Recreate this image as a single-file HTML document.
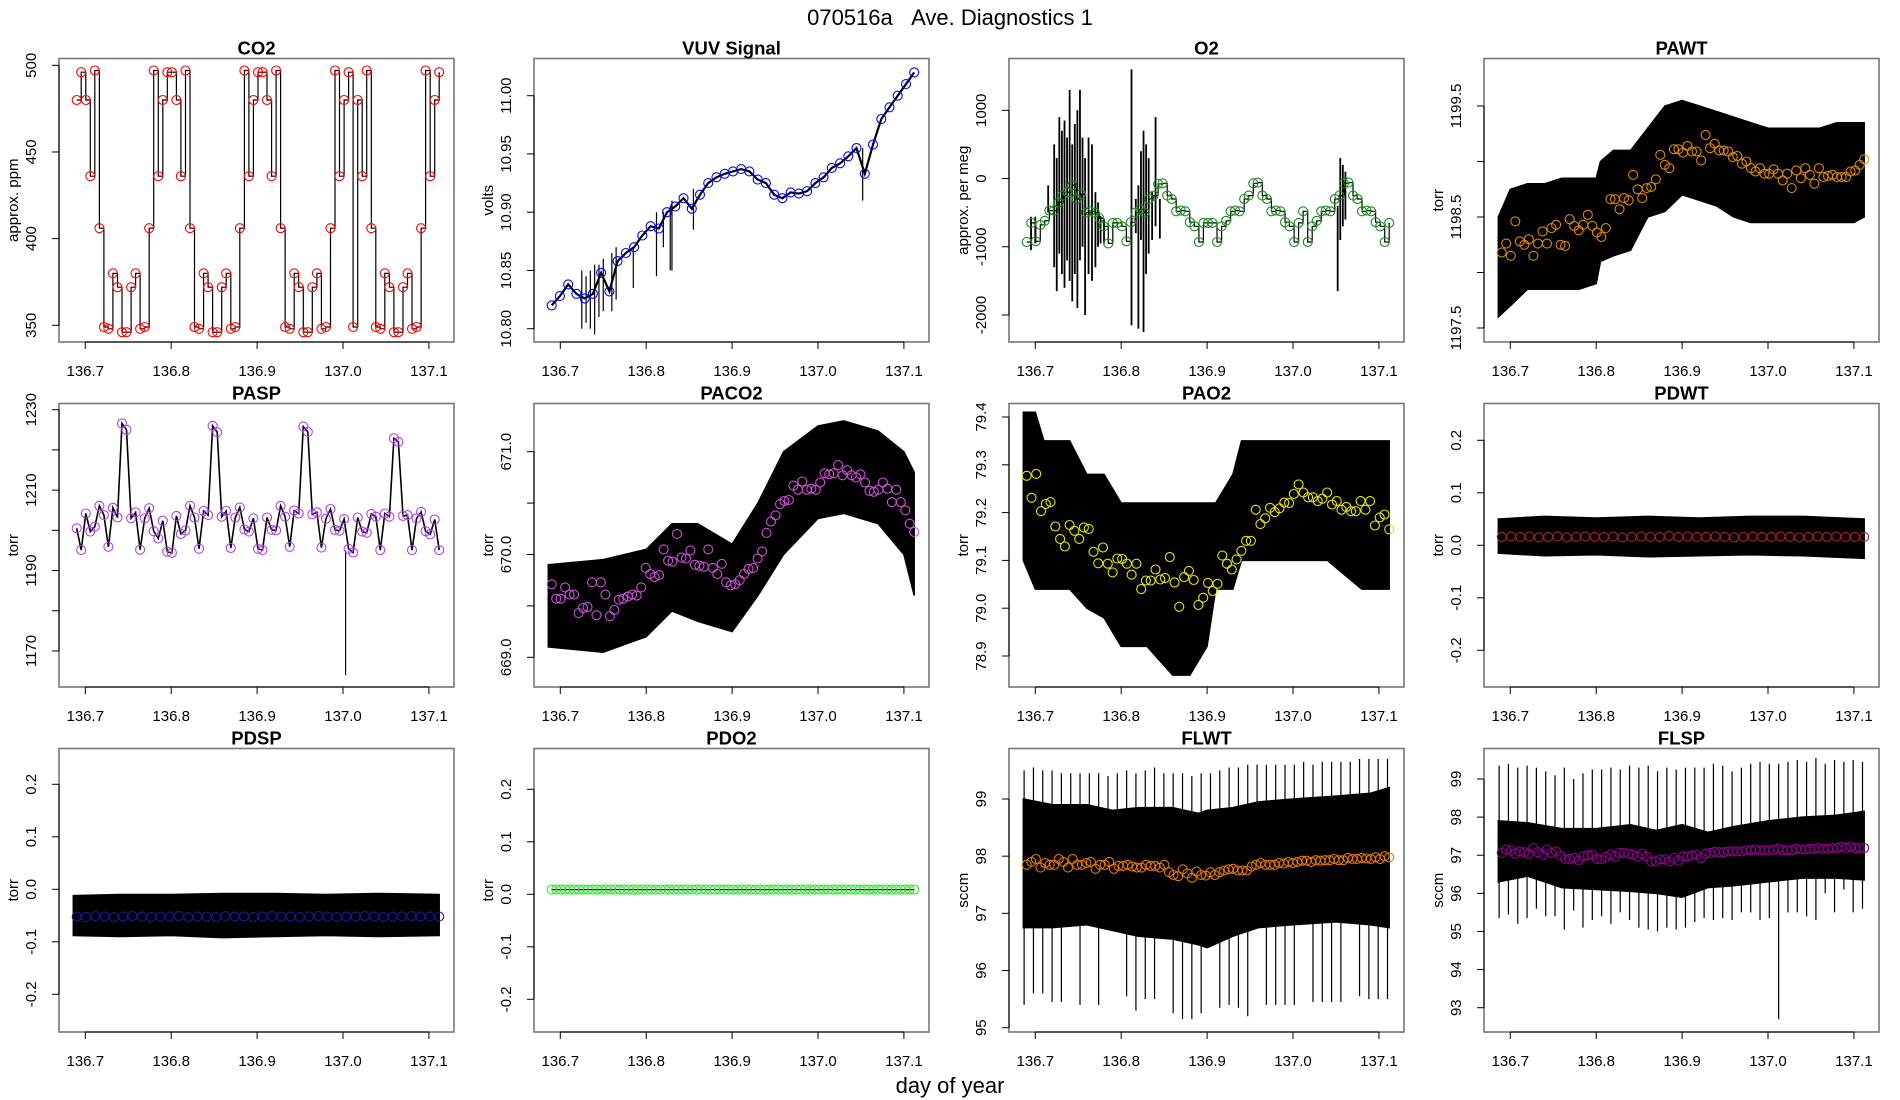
<!DOCTYPE html>
<html><head><meta charset="utf-8">
<style>
html,body{margin:0;padding:0;background:#fff;}
svg{display:block;font-family:"Liberation Sans",Arial,sans-serif;}
</style></head>
<body>
<svg id="chart" width="1900" height="1100" viewBox="0 0 1900 1100" xmlns="http://www.w3.org/2000/svg">
<rect width="1900" height="1100" fill="#fff"/>
<text x="950" y="25" text-anchor="middle" font-size="22">070516a&#160;&#160;&#160;Ave. Diagnostics 1</text>
<text x="950" y="1093" text-anchor="middle" font-size="22">day of year</text>
</svg>
<script>
// ---------- shared axis ----------
const xTickVals = [136.7, 136.8, 136.9, 137.0, 137.1];
const xTickLabels = ["136.7", "136.8", "136.9", "137.0", "137.1"];
const tStart = 136.690, tEnd = 137.112;

// ---------- CO2 ----------
const co2Avg = [480,496,480,436,497,406,349,348,380,372,346,346,372,380,348,349,406,497,436,480,496,496,480,436,497,406,349,348,380,372,346,346,372,380,348,349,406,497,436,480,496,496,480,436,497,406,349,348,380,372,346,346,372,380,348,349,406,497,436,480,496,349,480,436,497,406,349,348,380,372,346,346,372,380,348,349,406,497,436,480,496];
// ---------- VUV ----------
const vuvAvg = [10.820,10.828,10.838,10.830,10.826,10.830,10.848,10.832,10.858,10.865,10.870,10.880,10.888,10.886,10.900,10.905,10.912,10.903,10.915,10.925,10.930,10.933,10.935,10.937,10.935,10.928,10.925,10.915,10.912,10.917,10.916,10.918,10.925,10.930,10.938,10.942,10.948,10.955,10.933,10.958,10.980,10.990,11.000,11.010,11.020];
const vuvSpikeX = [136.725,136.730,136.735,136.740,136.745,136.750,136.760,136.765,136.785,136.812,136.820,136.828,136.830,136.855,137.052];
const vuvSpikeHi = [10.850,10.845,10.850,10.855,10.855,10.860,10.865,10.870,10.870,10.900,10.900,10.905,10.910,10.920,10.955];
const vuvSpikeLo = [10.800,10.805,10.800,10.795,10.810,10.815,10.815,10.825,10.835,10.845,10.870,10.850,10.850,10.885,10.910];
// ---------- O2 ----------
const o2Avg = [-930,-650,-920,-680,-620,-470,-470,-350,-250,-200,-100,-300,-230,-500,-480,-500,-580,-700,-950,-650,-650,-700,-920,-640,-500,-450,-500,-300,-250,-80,-70,-250,-300,-480,-470,-480,-640,-700,-930,-650,-650,-650,-930,-700,-620,-480,-470,-480,-300,-250,-70,-60,-250,-300,-480,-470,-480,-640,-700,-930,-650,-480,-930,-700,-620,-480,-470,-480,-300,-250,-70,-60,-250,-300,-480,-470,-480,-640,-700,-930,-650];
const o2SpikeX = [136.695,136.700,136.715,136.722,136.725,136.728,136.731,136.734,136.737,136.740,136.743,136.746,136.749,136.752,136.755,136.758,136.762,136.766,136.770,136.773,136.776,136.780,136.812,136.817,136.820,136.823,136.826,136.829,136.832,136.836,136.840,136.845,137.052,137.055,137.058,137.061];
const o2SpikeHi = [-560,-560,-100,500,300,900,700,850,600,1300,500,800,1000,1300,600,300,600,500,-200,-350,-550,-600,1600,-300,-100,400,700,500,300,-200,900,-300,-400,300,200,100];
const o2SpikeLo = [-1050,-950,-500,-1300,-1650,-1100,-1400,-1600,-1200,-1500,-1800,-1400,-1900,-1200,-1000,-2000,-1400,-1500,-1300,-1000,-950,-950,-2150,-800,-2200,-900,-2250,-1400,-1100,-900,-700,-880,-1650,-900,-700,-600];
// ---------- PAWT ----------
const pawtAvg = [1198.18,1198.26,1198.15,1198.46,1198.28,1198.25,1198.30,1198.15,1198.26,1198.37,1198.26,1198.40,1198.43,1198.25,1198.24,1198.48,1198.42,1198.38,1198.43,1198.52,1198.42,1198.36,1198.32,1198.40,1198.66,1198.66,1198.57,1198.67,1198.65,1198.88,1198.75,1198.67,1198.76,1198.77,1198.84,1199.06,1198.97,1198.94,1199.11,1199.11,1199.08,1199.14,1199.09,1199.09,1199.01,1199.24,1199.12,1199.16,1199.10,1199.10,1199.09,1199.04,1199.05,1198.98,1199.00,1198.94,1198.91,1198.94,1198.89,1198.89,1198.93,1198.89,1198.83,1198.89,1198.76,1198.92,1198.85,1198.94,1198.88,1198.80,1198.94,1198.86,1198.87,1198.88,1198.86,1198.86,1198.86,1198.91,1198.92,1198.97,1199.02];
const pawtBandX = [136.686,136.70,136.72,136.74,136.76,136.78,136.80,136.805,136.82,136.84,136.86,136.88,136.90,136.92,136.94,136.96,136.98,137.0,137.02,137.04,137.06,137.08,137.10,137.112];
const pawtBandHi = [1198.5,1198.75,1198.8,1198.8,1198.85,1198.85,1198.85,1199.0,1199.1,1199.1,1199.3,1199.5,1199.55,1199.5,1199.45,1199.4,1199.35,1199.3,1199.3,1199.3,1199.3,1199.35,1199.35,1199.35];
const pawtBandLo = [1197.6,1197.7,1197.85,1197.85,1197.85,1197.85,1197.9,1198.1,1198.15,1198.2,1198.5,1198.55,1198.7,1198.65,1198.6,1198.5,1198.45,1198.45,1198.45,1198.45,1198.45,1198.45,1198.45,1198.5];
// ---------- PASP ----------
const paspAvg = [1200.5,1195.1,1204.2,1199.7,1200.9,1206.1,1203.8,1195.9,1205.6,1203.2,1226.6,1225.0,1203.0,1204.5,1195.2,1203.0,1205.5,1199.8,1198.0,1202.4,1194.7,1194.4,1203.6,1199.1,1200.0,1206.1,1203.2,1195.4,1204.8,1203.8,1226.0,1224.4,1203.4,1204.8,1195.6,1203.2,1205.7,1200.2,1199.7,1203.0,1195.4,1195.1,1203.2,1200.1,1200.0,1206.1,1203.4,1195.9,1204.9,1204.2,1225.8,1224.5,1204.0,1204.5,1195.7,1202.9,1205.3,1200.1,1199.9,1202.8,1195.4,1194.5,1203.2,1199.7,1199.4,1204.1,1203.4,1195.1,1204.2,1203.4,1222.9,1222.0,1203.6,1203.8,1195.1,1203.0,1204.6,1199.8,1199.0,1202.7,1195.1];
const paspSpikeX = [137.003];
const paspSpikeHi = [1195.0];
const paspSpikeLo = [1164.0];
// ---------- PACO2 ----------
const paco2Avg = [669.71,669.57,669.57,669.68,669.61,669.61,669.43,669.48,669.49,669.73,669.41,669.73,669.61,669.40,669.46,669.56,669.57,669.59,669.61,669.60,669.68,669.87,669.81,669.78,669.80,670.05,669.94,669.93,670.20,669.97,669.96,670.04,669.90,669.89,669.88,670.05,669.87,669.81,669.91,669.73,669.70,669.71,669.75,669.81,669.86,669.87,669.96,670.03,670.21,670.32,670.38,670.49,670.52,670.53,670.67,670.63,670.71,670.63,670.64,670.63,670.70,670.79,670.78,670.79,670.87,670.77,670.82,670.77,670.75,670.78,670.70,670.62,670.61,670.63,670.70,670.64,670.51,670.63,670.51,670.43,670.30,670.22];
const paco2BandX = [136.686,136.75,136.80,136.83,136.86,136.90,136.93,136.96,137.0,137.03,137.07,137.10,137.112];
const paco2BandHi = [669.9,669.95,670.05,670.3,670.3,670.1,670.5,671.0,671.25,671.3,671.2,671.0,670.8];
const paco2BandLo = [669.1,669.05,669.2,669.45,669.35,669.25,669.6,670.0,670.35,670.4,670.3,670.0,669.6];
// ---------- PAO2 ----------
const pao2Avg = [79.277,79.231,79.281,79.203,79.218,79.222,79.171,79.145,79.129,79.174,79.162,79.145,79.169,79.166,79.118,79.094,79.127,79.093,79.075,79.104,79.103,79.093,79.070,79.093,79.040,79.058,79.058,79.081,79.060,79.063,79.107,79.054,79.003,79.065,79.078,79.059,79.007,79.022,79.053,79.036,79.051,79.110,79.093,79.081,79.102,79.120,79.141,79.141,79.206,79.176,79.188,79.210,79.201,79.209,79.221,79.220,79.239,79.259,79.242,79.232,79.232,79.224,79.229,79.242,79.217,79.224,79.206,79.212,79.203,79.203,79.224,79.206,79.224,79.173,79.190,79.196,79.165];
const pao2BandX = [136.686,136.70,136.71,136.74,136.76,136.78,136.80,136.83,136.86,136.88,136.90,136.91,136.93,136.94,136.96,136.98,137.0,137.04,137.08,137.10,137.112];
const pao2BandHi = [79.41,79.41,79.35,79.35,79.28,79.28,79.22,79.22,79.22,79.22,79.22,79.22,79.28,79.35,79.35,79.35,79.35,79.35,79.35,79.35,79.35];
const pao2BandLo = [79.10,79.04,79.04,79.04,79.00,78.98,78.92,78.92,78.86,78.86,78.92,79.04,79.04,79.10,79.10,79.10,79.10,79.10,79.04,79.04,79.04];
// ---------- PDWT ----------
const pdwtAvg = [0.016,0.017,0.016,0.017,0.015,0.016,0.017,0.015,0.016,0.017,0.016,0.016,0.017,0.015,0.016,0.017,0.016,0.016,0.018,0.016,0.017,0.016,0.016,0.017,0.016,0.015,0.016,0.017,0.016,0.016,0.017,0.016,0.015,0.016,0.017,0.016,0.017,0.016,0.016,0.016];
const pdwtBandX = [136.686,136.74,136.80,136.86,136.92,136.98,137.04,137.112];
const pdwtBandHi = [0.050,0.055,0.052,0.055,0.052,0.055,0.055,0.050];
const pdwtBandLo = [-0.015,-0.020,-0.018,-0.022,-0.020,-0.018,-0.020,-0.025];
// ---------- PDSP ----------
const pdspAvg = [-0.052,-0.053,-0.051,-0.052,-0.053,-0.052,-0.051,-0.052,-0.053,-0.052,-0.052,-0.051,-0.053,-0.052,-0.052,-0.053,-0.051,-0.052,-0.052,-0.053,-0.052,-0.051,-0.052,-0.052,-0.053,-0.052,-0.051,-0.052,-0.053,-0.052,-0.052,-0.051,-0.052,-0.053,-0.052,-0.052,-0.051,-0.052,-0.052,-0.052];
const pdspBandX = [136.686,136.74,136.80,136.86,136.92,136.98,137.04,137.112];
const pdspBandHi = [-0.012,-0.010,-0.010,-0.008,-0.008,-0.010,-0.008,-0.010];
const pdspBandLo = [-0.088,-0.090,-0.088,-0.092,-0.090,-0.088,-0.090,-0.088];
// ---------- PDO2 ----------
const pdo2Avg = [0.009,0.009,0.009,0.009,0.009,0.009,0.009,0.009,0.009,0.009,0.009,0.009,0.009,0.009,0.009,0.009,0.009,0.009,0.009,0.009,0.009,0.009,0.009,0.009,0.009,0.009,0.009,0.009,0.009,0.009,0.009,0.009,0.009,0.009,0.009,0.009,0.009,0.009,0.009,0.009,0.009,0.009,0.009,0.009,0.009,0.009,0.009,0.009,0.009,0.009,0.009,0.009,0.009,0.009,0.009,0.009,0.009,0.009,0.009,0.009,0.009,0.009,0.009,0.009,0.009,0.009,0.009,0.009,0.009,0.009,0.009,0.009,0.009,0.009,0.009,0.009,0.009,0.009,0.009,0.009,0.009];
// ---------- FLWT ----------
const flwtAvg = [97.85,97.9,97.95,97.8,97.88,97.85,97.85,97.95,97.9,97.8,97.95,97.85,97.85,97.88,97.9,97.78,97.85,97.85,97.9,97.78,97.83,97.83,97.85,97.82,97.8,97.8,97.85,97.83,97.83,97.8,97.85,97.72,97.67,97.65,97.77,97.7,97.62,97.73,97.67,97.66,97.72,97.67,97.72,97.75,97.77,97.78,97.75,97.75,97.75,97.82,97.85,97.88,97.85,97.85,97.85,97.88,97.87,97.9,97.88,97.9,97.92,97.92,97.9,97.93,97.92,97.93,97.93,97.95,97.93,97.93,97.97,97.95,97.95,97.97,97.96,97.95,97.98,97.95,98.0,97.98];
const flwtBandX = [136.686,136.72,136.76,136.79,136.82,136.86,136.89,136.90,136.93,136.96,137.0,137.05,137.09,137.112];
const flwtBandHi = [99.0,98.9,98.9,98.8,98.85,98.85,98.75,98.8,98.85,98.95,99.0,99.05,99.1,99.2];
const flwtBandLo = [96.75,96.75,96.8,96.7,96.6,96.55,96.45,96.4,96.6,96.75,96.8,96.85,96.8,96.75];
const flwtSpikeHi = [99.5,99.55,99.5,99.5,99.45,99.45,99.45,99.45,99.45,99.4,99.45,99.5,99.45,99.5,99.55,99.45,99.45,99.45,99.4,99.45,99.45,99.5,99.55,99.55,99.6,99.6,99.6,99.6,99.6,99.6,99.65,99.6,99.65,99.65,99.65,99.65,99.7,99.7,99.7,99.7];
const flwtSpikeLo = [95.4,95.6,95.6,95.45,95.45,97.0,95.4,97.0,95.4,97.0,97.0,95.55,95.3,95.5,95.5,97.0,95.25,95.15,95.15,95.25,96.8,95.35,95.4,95.35,95.2,96.8,95.4,95.4,95.4,95.4,96.9,95.45,95.45,95.45,95.45,96.9,95.55,95.5,95.5,95.5];
// ---------- FLSP ----------
const flspAvg = [97.06,97.15,97.13,97.04,97.10,97.08,97.04,97.19,97.08,97.02,97.15,97.06,97.10,96.99,96.90,96.90,96.93,96.86,96.97,97.0,97.02,96.90,96.90,96.96,97.02,96.96,97.06,97.06,97.04,97.02,96.96,97.04,96.97,96.84,96.84,96.89,96.89,96.84,96.93,96.86,96.97,96.97,96.99,97.02,96.93,97.04,97.06,97.09,97.08,97.08,97.10,97.10,97.10,97.10,97.13,97.13,97.15,97.13,97.13,97.13,97.15,97.17,97.13,97.13,97.13,97.17,97.15,97.15,97.17,97.17,97.19,97.17,97.17,97.19,97.19,97.22,97.19,97.23,97.19,97.19,97.19];
const flspBandX = [136.686,136.72,136.76,136.80,136.84,136.87,136.90,136.93,136.96,137.0,137.04,137.08,137.112];
const flspBandHi = [97.9,97.85,97.7,97.7,97.8,97.65,97.8,97.6,97.75,97.9,98.0,98.05,98.15];
const flspBandLo = [96.3,96.45,96.15,96.1,96.05,96.0,95.9,96.15,96.2,96.3,96.4,96.4,96.35];
const flspSpikeHi = [99.35,99.4,99.3,99.35,99.3,99.2,99.1,99.3,99.0,99.15,99.25,99.25,99.3,99.25,99.35,99.3,99.35,99.2,99.3,99.25,99.3,99.3,99.3,99.4,99.35,99.2,99.3,99.4,99.45,99.4,99.4,99.45,99.5,99.45,99.55,99.4,99.5,99.45,99.5,99.45];
const flspSpikeLo = [95.35,95.45,95.2,95.35,95.6,95.4,95.4,95.05,95.55,95.1,95.3,95.4,95.2,95.5,95.3,95.1,95.05,95.0,95.1,95.05,95.1,95.25,95.35,95.3,95.35,95.3,95.5,95.5,95.3,95.35,92.7,95.5,95.5,95.4,95.3,96.0,95.5,96.1,95.5,95.6];

// ---------- layout ----------
const NS = "http://www.w3.org/2000/svg";
const svg = document.getElementById("chart");
const colX = [0, 475, 950, 1425];
const rowTop = [58.5, 403.5, 748.5];
const boxL = 59, boxW = 395, boxH = 283.5;
const xDomLo = 136.6694, xDomW = 0.4598;

function mk(tag, attrs, parent) {
  const e = document.createElementNS(NS, tag);
  for (const k in attrs) e.setAttribute(k, attrs[k]);
  (parent || svg).appendChild(e);
  return e;
}
function linspace(a, b, n) { const r = []; for (let i = 0; i < n; i++) r.push(n === 1 ? a : a + (b - a) * i / (n - 1)); return r; }

function panel(cfg) {
  const g = mk("g", {});
  
  
  const L = colX[cfg.col] + boxL, T = rowTop[cfg.row], B = T + boxH, R = L + boxW;
  const xs = v => L + (v - xDomLo) / xDomW * boxW;
  const [v1, p1, v2, p2] = cfg.yref;
  const ys = v => (p1 + (v - v1) / (v2 - v1) * (p2 - p1));
  const clipId = "clip-" + cfg.key;
  const cp = mk("clipPath", { id: clipId }, g);
  mk("rect", { x: L, y: T, width: boxW, height: boxH }, cp);
  const plot = mk("g", { "clip-path": "url(#" + clipId + ")" }, g);
  
  

  if (cfg.bandX) {
    let d = "";
    cfg.bandX.forEach((x, i) => { d += (i ? "L" : "M") + xs(x).toFixed(1) + "," + ys(cfg.bandHi[i]).toFixed(1); });
    for (let i = cfg.bandX.length - 1; i >= 0; i--) d += "L" + xs(cfg.bandX[i]).toFixed(1) + "," + ys(cfg.bandLo[i]).toFixed(1);
    const band = mk("path", { d: d + "Z", fill: "#000", stroke: "#000", "stroke-width": 1.5 }, plot);
    
    
  }
  if (cfg.spikeHi) {
    const sx = cfg.spikeX || linspace(136.687, 137.110, cfg.spikeHi.length);
    sx.forEach((x, i) => {
      const ln = mk("line", { x1: xs(x), x2: xs(x), y1: ys(cfg.spikeHi[i]), y2: ys(cfg.spikeLo[i]), stroke: "#000", "stroke-width": cfg.sw || 1.2 }, plot);
      
      
    });
  }
  const tx = linspace(tStart, tEnd, cfg.avg.length);
  if (cfg.line) {
    let d = "";
    tx.forEach((x, i) => {
      if (i === 0) d += "M" + xs(x).toFixed(1) + "," + ys(cfg.avg[i]).toFixed(1);
      else if (cfg.line === "step") d += "H" + xs(x).toFixed(1) + "V" + ys(cfg.avg[i]).toFixed(1);
      else d += "L" + xs(x).toFixed(1) + "," + ys(cfg.avg[i]).toFixed(1);
    });
    const pl = mk("path", { d: d, fill: "none", stroke: "#000", "stroke-width": cfg.lw || 1.2 }, plot);
    
    
  }
  tx.forEach((x, i) => {
    const c = mk("circle", { cx: xs(x).toFixed(1), cy: ys(cfg.avg[i]).toFixed(1), r: 4.5, fill: "none", stroke: cfg.color, "stroke-width": 1.1 }, g);
    
    
  });
  const box = mk("rect", { x: L, y: T, width: boxW, height: boxH, fill: "none", stroke: "#777", "stroke-width": 1.6 }, g);
  
  
  const xa = mk("g", {}, g);
  
  
  mk("line", { x1: xs(xTickVals[0]), x2: xs(xTickVals[xTickVals.length - 1]), y1: B, y2: B, stroke: "#000", "stroke-width": 1 }, xa);
  xTickVals.forEach((v, i) => {
    mk("line", { x1: xs(v), x2: xs(v), y1: B, y2: B + 7, stroke: "#000", "stroke-width": 1 }, xa);
    const t = mk("text", { x: xs(v), y: B + 34, "text-anchor": "middle", "font-size": 15 }, xa);
    t.textContent = xTickLabels[i];
    
    
  });
  const ya = mk("g", {}, g);
  
  
  const yt = cfg.yTicks;
  mk("line", { x1: L, x2: L, y1: ys(yt[0]), y2: ys(yt[yt.length - 1]), stroke: "#000", "stroke-width": 1 }, ya);
  yt.forEach((v, i) => {
    mk("line", { x1: L - 7, x2: L, y1: ys(v), y2: ys(v), stroke: "#000", "stroke-width": 1 }, ya);
    const lab = cfg.yLabels[i];
    if (lab !== "") {
      const px = L - 23, py = ys(v);
      const t = mk("text", { x: px, y: py, "text-anchor": "middle", "font-size": 15, transform: "rotate(-90 " + px + " " + py + ")" }, ya);
      t.textContent = lab;
      
      
    }
  });
  const yc = (T + B) / 2, yx = L - 41;
  const ytl = mk("text", { x: yx, y: yc, "text-anchor": "middle", "font-size": 15, transform: "rotate(-90 " + yx + " " + yc + ")" }, g);
  ytl.textContent = cfg.ylab;
  
  
  const tt = mk("text", { x: (L + R) / 2, y: T - 4, "text-anchor": "middle", "font-size": 18.5, "font-weight": "bold" }, g);
  tt.textContent = cfg.title;
  
  
}

const pd = ["-0.2", "-0.1", "0.0", "0.1", "0.2"];
panel({ key: "co2", title: "CO2", col: 0, row: 0, yref: [500, 65.3, 350, 325.3], yTicks: [350, 400, 450, 500], yLabels: ["350", "400", "450", "500"], ylab: "approx. ppm", avg: co2Avg, color: "#ff0000", line: "step" });
panel({ key: "vuv", title: "VUV Signal", col: 1, row: 0, yref: [11.0, 95.7, 10.8, 328.7], yTicks: [10.80, 10.85, 10.90, 10.95, 11.00], yLabels: ["10.80", "10.85", "10.90", "10.95", "11.00"], ylab: "volts", avg: vuvAvg, color: "#0000ff", line: "line", lw: 2.2, spikeX: vuvSpikeX, spikeHi: vuvSpikeHi, spikeLo: vuvSpikeLo });
panel({ key: "o2", title: "O2", col: 2, row: 0, yref: [1000, 110.3, -2000, 315], yTicks: [-2000, -1000, 0, 1000], yLabels: ["-2000", "-1000", "0", "1000"], ylab: "approx. per meg", avg: o2Avg, color: "#1a8a1a", line: "step", spikeX: o2SpikeX, spikeHi: o2SpikeHi, spikeLo: o2SpikeLo, sw: 1.8 });
panel({ key: "pawt", title: "PAWT", col: 3, row: 0, yref: [1199.5, 106, 1197.5, 328], yTicks: [1197.5, 1198, 1198.5, 1199, 1199.5], yLabels: ["1197.5", "", "1198.5", "", "1199.5"], ylab: "torr", avg: pawtAvg, color: "#e08a00", bandX: pawtBandX, bandHi: pawtBandHi, bandLo: pawtBandLo });
panel({ key: "pasp", title: "PASP", col: 0, row: 1, yref: [1230, 409.7, 1170, 651], yTicks: [1170, 1180, 1190, 1200, 1210, 1220, 1230], yLabels: ["1170", "", "1190", "", "1210", "", "1230"], ylab: "torr", avg: paspAvg, color: "#b040e8", line: "line", lw: 1.6, spikeX: paspSpikeX, spikeHi: paspSpikeHi, spikeLo: paspSpikeLo });
panel({ key: "paco2", title: "PACO2", col: 1, row: 1, yref: [671, 451.7, 669, 657.3], yTicks: [669, 669.5, 670, 670.5, 671], yLabels: ["669.0", "", "670.0", "", "671.0"], ylab: "torr", avg: paco2Avg, color: "#d050d8", bandX: paco2BandX, bandHi: paco2BandHi, bandLo: paco2BandLo });
panel({ key: "pao2", title: "PAO2", col: 2, row: 1, yref: [79.4, 417, 78.9, 656], yTicks: [78.9, 79.0, 79.1, 79.2, 79.3, 79.4], yLabels: ["78.9", "79.0", "79.1", "79.2", "79.3", "79.4"], ylab: "torr", avg: pao2Avg, color: "#e8e800", bandX: pao2BandX, bandHi: pao2BandHi, bandLo: pao2BandLo });
panel({ key: "pdwt", title: "PDWT", col: 3, row: 1, yref: [0.2, 440.3, -0.2, 650.3], yTicks: [-0.2, -0.1, 0, 0.1, 0.2], yLabels: pd, ylab: "torr", avg: pdwtAvg, color: "#b22222", bandX: pdwtBandX, bandHi: pdwtBandHi, bandLo: pdwtBandLo });
panel({ key: "pdsp", title: "PDSP", col: 0, row: 2, yref: [0.2, 784.3, -0.2, 994.3], yTicks: [-0.2, -0.1, 0, 0.1, 0.2], yLabels: pd, ylab: "torr", avg: pdspAvg, color: "#1a1aa0", bandX: pdspBandX, bandHi: pdspBandHi, bandLo: pdspBandLo });
panel({ key: "pdo2", title: "PDO2", col: 1, row: 2, yref: [0.2, 789.3, -0.2, 999.3], yTicks: [-0.2, -0.1, 0, 0.1, 0.2], yLabels: pd, ylab: "torr", avg: pdo2Avg, color: "#22ee22", line: "line" });
panel({ key: "flwt", title: "FLWT", col: 2, row: 2, yref: [99, 799, 95, 1027.7], yTicks: [95, 96, 97, 98, 99], yLabels: ["95", "96", "97", "98", "99"], ylab: "sccm", avg: flwtAvg, color: "#e87800", bandX: flwtBandX, bandHi: flwtBandHi, bandLo: flwtBandLo, spikeHi: flwtSpikeHi, spikeLo: flwtSpikeLo });
panel({ key: "flsp", title: "FLSP", col: 3, row: 2, yref: [99, 779, 93, 1007.7], yTicks: [93, 94, 95, 96, 97, 98, 99], yLabels: ["93", "94", "95", "96", "97", "98", "99"], ylab: "sccm", avg: flspAvg, color: "#900090", bandX: flspBandX, bandHi: flspBandHi, bandLo: flspBandLo, spikeHi: flspSpikeHi, spikeLo: flspSpikeLo });
</script>
</body></html>
